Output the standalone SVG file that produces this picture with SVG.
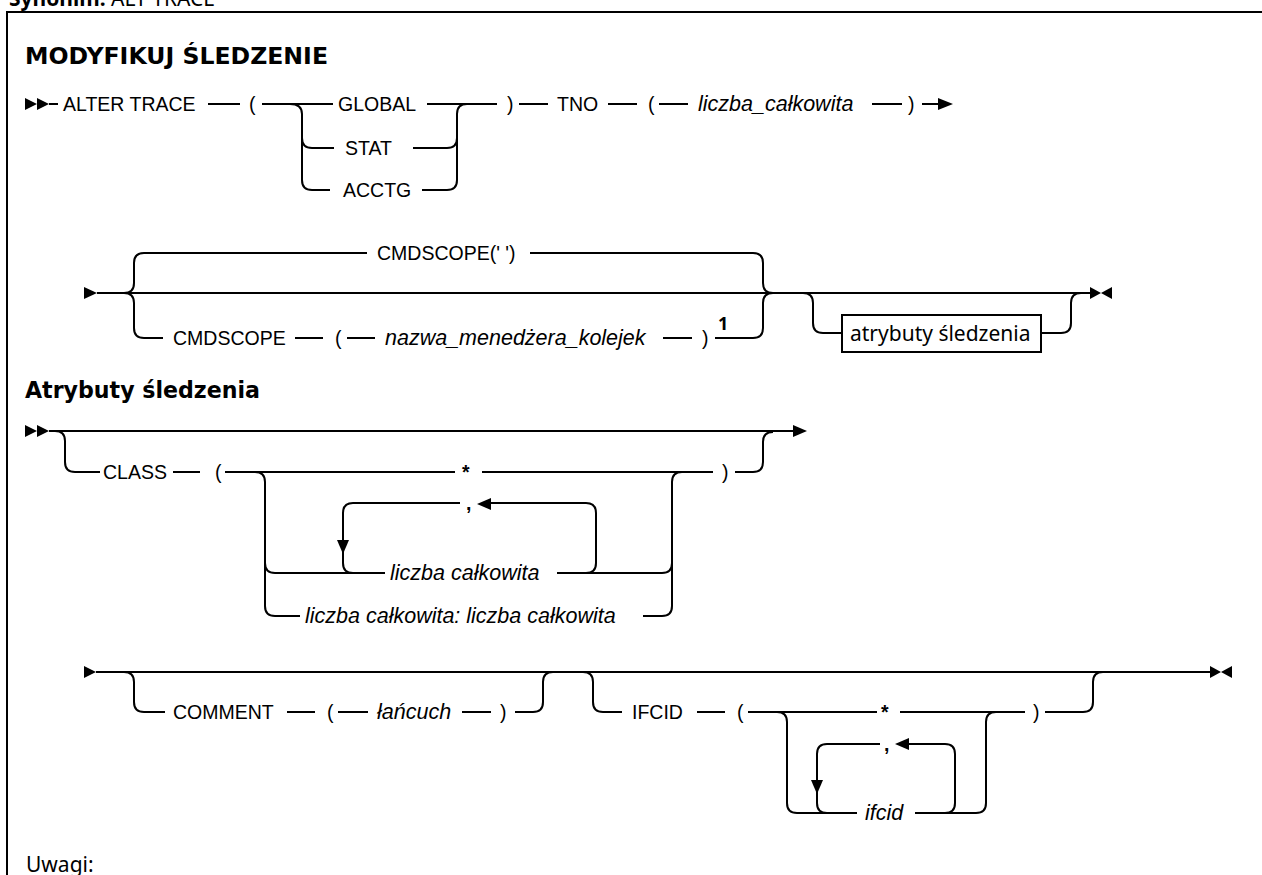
<svg xmlns="http://www.w3.org/2000/svg" width="1262" height="875" viewBox="0 0 1262 875">
  <style>
    .k { font-family: "Liberation Sans", Arial, sans-serif; font-size: 19.5px; fill: #000; }
    .v { font-family: "Liberation Sans", Arial, sans-serif; font-style: italic; font-size: 21.5px; fill: #000; }
    .h { font-family: "DejaVu Sans", "Noto Sans", sans-serif; font-weight: bold; font-size: 22.5px; fill: #000; }
    .n { font-family: "Noto Sans", "Liberation Sans", sans-serif; font-size: 21px; fill: #000; }
    .sup { font-family: "Noto Sans", "Liberation Sans", sans-serif; font-weight: bold; font-size: 18px; fill: #000; }
    .ln { fill: none; stroke: #000; stroke-width: 2; }
    .head { fill: #000; stroke: none; }
    .box { fill: #fff; stroke: #000; stroke-width: 2; }
  </style>
  <rect x="0" y="0" width="1262" height="875" fill="#fff"/>

  <!-- caption strip and frame -->
  <g id="caption">
    <text x="9" y="6" class="n" font-size="25"><tspan font-weight="bold">Synonim:</tspan> ALT TRACE</text>
  </g>
  <rect id="frame" x="7" y="12" width="1280" height="900" fill="none" stroke="#000" stroke-width="2"/>

  <!-- section headings -->
  <g id="title"><text x="25" y="64" class="h" textLength="303" lengthAdjust="spacingAndGlyphs">MODYFIKUJ ŚLEDZENIE</text></g>
  <g id="subtitle"><text x="25" y="398" class="h" textLength="235" lengthAdjust="spacingAndGlyphs">Atrybuty śledzenia</text></g>
  <g id="notes"><text x="26" y="872" class="n" font-size="24">Uwagi:</text></g>

  <!-- row 1: ALTER TRACE -->
  <g id="n-alter"><text x="63" y="111" class="k">ALTER TRACE</text></g>
  <g id="n-lp1"><text x="249" y="111" class="k">(</text></g>
  <g id="n-global"><text x="338" y="111" class="k">GLOBAL</text></g>
  <g id="n-stat"><text x="345" y="155" class="k">STAT</text></g>
  <g id="n-acctg"><text x="343" y="197" class="k">ACCTG</text></g>
  <g id="n-rp1"><text x="507" y="111" class="k">)</text></g>
  <g id="n-tno"><text x="557" y="111" class="k">TNO</text></g>
  <g id="n-lp2"><text x="648" y="111" class="k">(</text></g>
  <g id="n-tnoval"><text x="698" y="111" class="v">liczba_całkowita</text></g>
  <g id="n-rp2"><text x="908" y="111" class="k">)</text></g>

  <!-- row 2: CMDSCOPE and attributes -->
  <g id="n-cmddef"><text x="377" y="260" class="k">CMDSCOPE(' ')</text></g>
  <g id="n-cmd"><text x="173" y="345" class="k">CMDSCOPE</text></g>
  <g id="n-lp3"><text x="335" y="345" class="k">(</text></g>
  <g id="n-qmgr"><text x="385" y="345" class="v">nazwa_menedżera_kolejek</text></g>
  <g id="n-rp3"><text x="702" y="345" class="k">)</text></g>
  <g id="n-note1"><text x="718" y="330" class="sup">1</text></g>
  <g id="n-attrs">
    <rect x="842" y="315" width="199" height="37" class="box"/>
    <text x="850" y="341" class="n">atrybuty śledzenia</text>
  </g>

  <!-- row 3: CLASS -->
  <g id="n-class"><text x="103" y="479" class="k">CLASS</text></g>
  <g id="n-lp4"><text x="215" y="479" class="k">(</text></g>
  <g id="n-star1"><text x="462" y="479" class="k" font-weight="bold">*</text></g>
  <g id="n-comma1"><text x="466" y="510" class="k" font-weight="bold">,</text></g>
  <g id="n-classval"><text x="390" y="580" class="v">liczba całkowita</text></g>
  <g id="n-classrange"><text x="305" y="623" class="v">liczba całkowita: liczba całkowita</text></g>
  <g id="n-rp4"><text x="722" y="479" class="k">)</text></g>

  <!-- row 4: COMMENT and IFCID -->
  <g id="n-comment"><text x="173" y="719" class="k">COMMENT</text></g>
  <g id="n-lp5"><text x="327" y="719" class="k">(</text></g>
  <g id="n-string"><text x="377" y="719" class="v">łańcuch</text></g>
  <g id="n-rp5"><text x="500" y="719" class="k">)</text></g>
  <g id="n-ifcid"><text x="632" y="719" class="k">IFCID</text></g>
  <g id="n-lp6"><text x="737" y="719" class="k">(</text></g>
  <g id="n-star2"><text x="881" y="719" class="k" font-weight="bold">*</text></g>
  <g id="n-comma2"><text x="884" y="751" class="k" font-weight="bold">,</text></g>
  <g id="n-ifcidval"><text x="865" y="820" class="v">ifcid</text></g>
  <g id="n-rp6"><text x="1033" y="719" class="k">)</text></g>

  <g id="connectors">
    <!-- row 1 -->
    <polygon class="head" points="25,98 37,104 25,110"/>
    <polygon class="head" points="37,98 49,104 37,110"/>
    <path class="ln" d="M49,104 H58"/>
    <path class="ln" d="M208,104 H240"/>
    <path class="ln" d="M262,104 H333"/>
    <path class="ln" d="M290,104 Q302,104 302,114 V180 Q302,190 312,190 H330"/>
    <path class="ln" d="M302,138 Q302,148 312,148 H334"/>
    <path class="ln" d="M427,104 H497"/>
    <path class="ln" d="M413,148 H447 Q457,148 457,138 V114 Q457,104 467,104"/>
    <path class="ln" d="M422,190 H447 Q457,190 457,180 V138"/>
    <path class="ln" d="M519,104 H548"/>
    <path class="ln" d="M608,104 H637"/>
    <path class="ln" d="M659,104 H688"/>
    <path class="ln" d="M872,104 H902"/>
    <path class="ln" d="M922,104 H940"/>
    <polygon class="head" points="938,98 953,104 938,110"/>

    <!-- row 2 -->
    <polygon class="head" points="84,287 97,293 84,299"/>
    <path class="ln" d="M97,293 H1090"/>
    <path class="ln" d="M124,293 Q134,293 134,283 V263 Q134,253 144,253 H367"/>
    <path class="ln" d="M124,293 Q134,293 134,303 V328 Q134,338 144,338 H163"/>
    <path class="ln" d="M295,338 H323"/>
    <path class="ln" d="M347,338 H375"/>
    <path class="ln" d="M663,338 H692"/>
    <path class="ln" d="M530,253 H753 Q763,253 763,263 V283 Q763,293 773,293"/>
    <path class="ln" d="M715,338 H753 Q763,338 763,328 V303 Q763,293 773,293"/>
    <path class="ln" d="M803,293 Q813,293 813,303 V323 Q813,333 823,333 H842"/>
    <path class="ln" d="M1041,333 H1061 Q1071,333 1071,323 V303 Q1071,293 1081,293"/>
    <polygon class="head" points="1090,287 1101,293 1090,299"/>
    <polygon class="head" points="1112,287 1101,293 1112,299"/>

    <!-- row 3 -->
    <polygon class="head" points="25,425 37,431 25,437"/>
    <polygon class="head" points="37,425 49,431 37,437"/>
    <path class="ln" d="M49,431 H795"/>
    <polygon class="head" points="793,425 807,431 793,437"/>
    <path class="ln" d="M55,431 Q65,431 65,441 V462 Q65,472 75,472 H100"/>
    <path class="ln" d="M173,472 H200"/>
    <path class="ln" d="M225,472 H455"/>
    <path class="ln" d="M482,472 H713"/>
    <path class="ln" d="M255,472 Q265,472 265,482 V606 Q265,616 275,616 H300"/>
    <path class="ln" d="M265,563 Q265,573 275,573 H385"/>
    <path class="ln" d="M460,503 H353 Q343,503 343,513 V563 Q343,573 353,573"/>
    <polygon class="head" points="337,540 349,540 343,554"/>
    <polygon class="head" points="477,504 491,498 491,510"/>
    <path class="ln" d="M490,503 H586 Q596,503 596,513 V563 Q596,573 586,573"/>
    <path class="ln" d="M557,573 H662 Q672,573 672,563 V482 Q672,472 682,472"/>
    <path class="ln" d="M643,616 H662 Q672,616 672,606 V563"/>
    <path class="ln" d="M735,472 H753 Q763,472 763,462 V442 Q763,432 773,432"/>

    <!-- row 4 -->
    <polygon class="head" points="84,666 96,672 84,678"/>
    <path class="ln" d="M96,672 H1210"/>
    <polygon class="head" points="1210,666 1221,672 1210,678"/>
    <polygon class="head" points="1232,666 1221,672 1232,678"/>
    <path class="ln" d="M124,672 Q134,672 134,682 V702 Q134,712 144,712 H165"/>
    <path class="ln" d="M287,712 H315"/>
    <path class="ln" d="M338,712 H368"/>
    <path class="ln" d="M462,712 H491"/>
    <path class="ln" d="M515,712 H533 Q543,712 543,702 V682 Q543,672 553,672"/>
    <path class="ln" d="M583,672 Q593,672 593,682 V702 Q593,712 603,712 H622"/>
    <path class="ln" d="M697,712 H725"/>
    <path class="ln" d="M748,712 H877"/>
    <path class="ln" d="M900,712 H1025"/>
    <path class="ln" d="M1045,712 H1083 Q1093,712 1093,702 V682 Q1093,672 1103,672"/>
    <path class="ln" d="M777,712 Q787,712 787,722 V803 Q787,813 797,813 H857"/>
    <path class="ln" d="M915,813 H976 Q986,813 986,803 V722 Q986,712 996,712"/>
    <path class="ln" d="M880,744 H827 Q817,744 817,754 V803 Q817,813 827,813"/>
    <polygon class="head" points="811,780 823,780 817,794"/>
    <polygon class="head" points="895,744 909,738 909,750"/>
    <path class="ln" d="M908,744 H945 Q955,744 955,754 V803 Q955,813 945,813"/>
  </g>
</svg>
